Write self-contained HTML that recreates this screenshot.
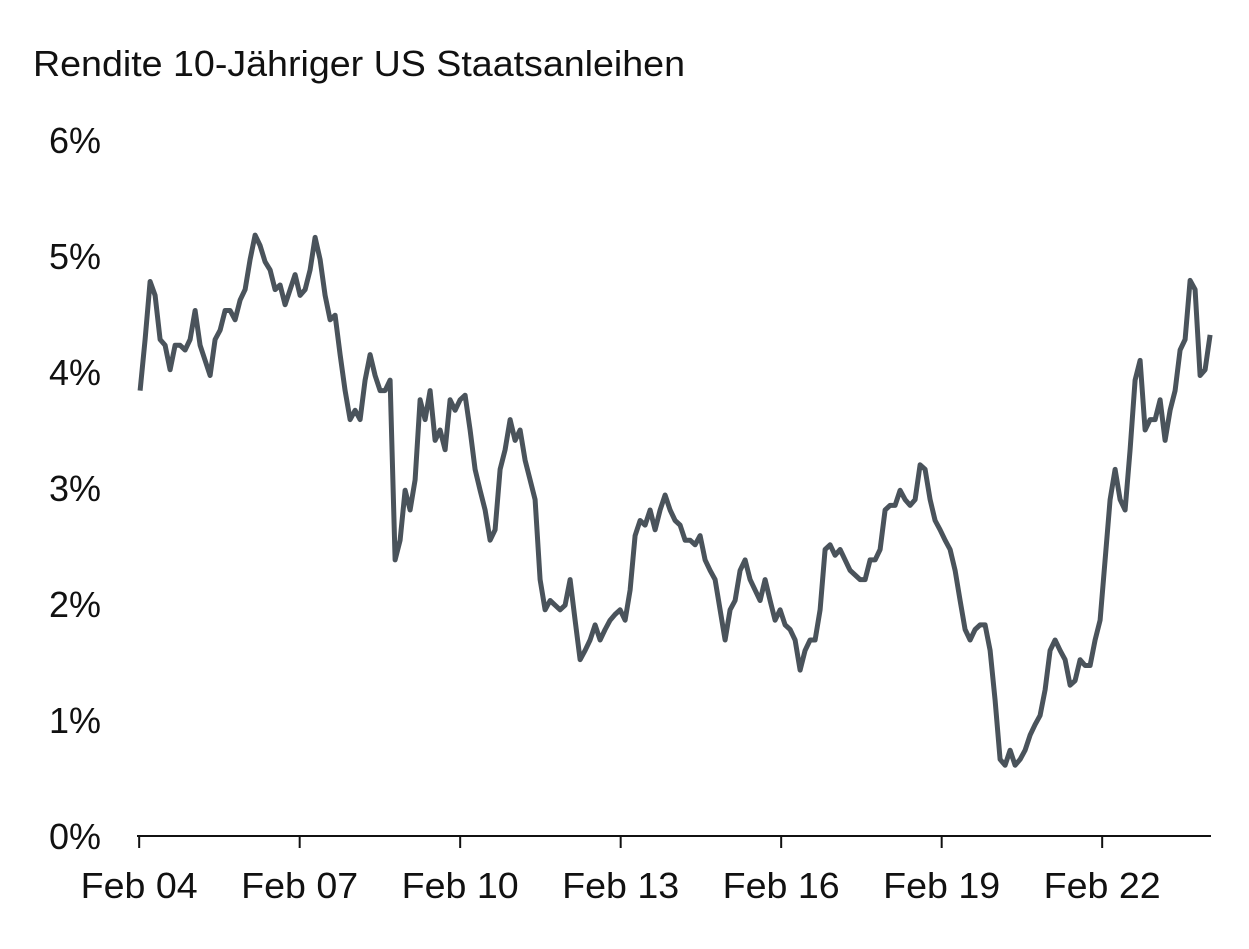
<!DOCTYPE html>
<html><head><meta charset="utf-8"><style>
body{margin:0;background:#fff;}
svg{display:block;font-family:"Liberation Sans",Arial,sans-serif;}
</style></head><body>
<svg id="chart" width="1249" height="949" viewBox="0 0 1249 949">
<text x="33" y="76" font-size="36" textLength="652" lengthAdjust="spacingAndGlyphs" fill="#111">Rendite 10-Jähriger US Staatsanleihen</text>
<g id="yaxis"></g>
<g id="xaxis"></g>
<g id="series"></g>
</svg>
<script>
const startYear = 2004.1;
const stepYears = 0.09346;
const yields = [3.84,4.28,4.78,4.66,4.28,4.23,4.02,4.23,4.23,4.19,4.28,4.53,4.23,4.10,3.97,4.28,4.36,4.53,4.53,4.45,4.62,4.71,4.97,5.18,5.09,4.95,4.88,4.71,4.75,4.58,4.71,4.84,4.66,4.71,4.88,5.16,4.97,4.66,4.45,4.49,4.15,3.84,3.59,3.67,3.59,3.93,4.15,3.97,3.84,3.84,3.93,2.38,2.55,2.98,2.81,3.07,3.76,3.59,3.84,3.41,3.50,3.33,3.76,3.67,3.76,3.80,3.50,3.16,2.98,2.81,2.55,2.64,3.16,3.33,3.59,3.41,3.50,3.24,3.07,2.90,2.21,1.95,2.03,1.99,1.95,1.99,2.21,1.86,1.52,1.60,1.69,1.82,1.69,1.78,1.86,1.91,1.95,1.86,2.12,2.59,2.72,2.68,2.81,2.64,2.81,2.94,2.81,2.72,2.68,2.55,2.55,2.51,2.59,2.38,2.29,2.21,1.95,1.69,1.95,2.03,2.29,2.38,2.21,2.12,2.03,2.21,2.03,1.86,1.95,1.82,1.78,1.69,1.43,1.60,1.69,1.69,1.95,2.47,2.51,2.42,2.47,2.38,2.29,2.25,2.21,2.21,2.38,2.38,2.47,2.81,2.85,2.85,2.98,2.90,2.85,2.90,3.20,3.16,2.90,2.72,2.64,2.55,2.47,2.29,2.03,1.78,1.69,1.78,1.82,1.82,1.60,1.17,0.66,0.61,0.74,0.61,0.66,0.74,0.87,0.96,1.04,1.26,1.60,1.69,1.60,1.52,1.30,1.34,1.52,1.47,1.47,1.69,1.86,2.38,2.90,3.16,2.90,2.81,3.33,3.93,4.10,3.50,3.59,3.59,3.76,3.41,3.67,3.84,4.19,4.28,4.79,4.71,3.97,4.02,4.32];
const yTicks = [0,1,2,3,4,5,6];
const yTickLabels = ["0%","1%","2%","3%","4%","5%","6%"];
const xTicks = [2004,2007,2010,2013,2016,2019,2022];
const xTickLabels = ["Feb 04","Feb 07","Feb 10","Feb 13","Feb 16","Feb 19","Feb 22"];

const NS="http://www.w3.org/2000/svg";
const yScale = v => 836 - v*116;
const xScale = yr => 139 + (yr - 2004.08)*53.5;

const ya=document.getElementById('yaxis');
yTicks.forEach((t,i)=>{
  const tx=document.createElementNS(NS,'text');
  tx.setAttribute('x',101);tx.setAttribute('y',yScale(t)+13);
  tx.setAttribute('text-anchor','end');tx.setAttribute('font-size','36');tx.setAttribute('fill','#111');
  tx.setAttribute('textLength','52');tx.setAttribute('lengthAdjust','spacingAndGlyphs');
  tx.textContent=yTickLabels[i];
  
  
  ya.appendChild(tx);
});
const xa=document.getElementById('xaxis');
const base=document.createElementNS(NS,'line');
base.setAttribute('x1',137);base.setAttribute('x2',1211);base.setAttribute('y1',836);base.setAttribute('y2',836);
base.setAttribute('stroke','#111');base.setAttribute('stroke-width','2');


xa.appendChild(base);
xTicks.forEach((t,i)=>{
  const x=xScale(t+1/12);
  const l=document.createElementNS(NS,'line');
  l.setAttribute('x1',x);l.setAttribute('x2',x);l.setAttribute('y1',836);l.setAttribute('y2',848);
  l.setAttribute('stroke','#111');l.setAttribute('stroke-width','2');
  
  
  xa.appendChild(l);
  const tx=document.createElementNS(NS,'text');
  tx.setAttribute('x',x);tx.setAttribute('y',898);tx.setAttribute('text-anchor','middle');
  tx.setAttribute('font-size','36');tx.setAttribute('fill','#111');
  tx.setAttribute('textLength','117');tx.setAttribute('lengthAdjust','spacingAndGlyphs');
  tx.textContent=xTickLabels[i];
  
  
  xa.appendChild(tx);
});
const pts=yields.map((v,i)=>xScale(startYear+i*stepYears).toFixed(1)+','+yScale(v).toFixed(1)).join(' ');
const pl=document.createElementNS(NS,'polyline');
pl.setAttribute('points',pts);pl.setAttribute('fill','none');pl.setAttribute('stroke','#4a535b');
pl.setAttribute('stroke-width','5');pl.setAttribute('stroke-linejoin','round');


document.getElementById('series').appendChild(pl);
</script>
</body></html>
